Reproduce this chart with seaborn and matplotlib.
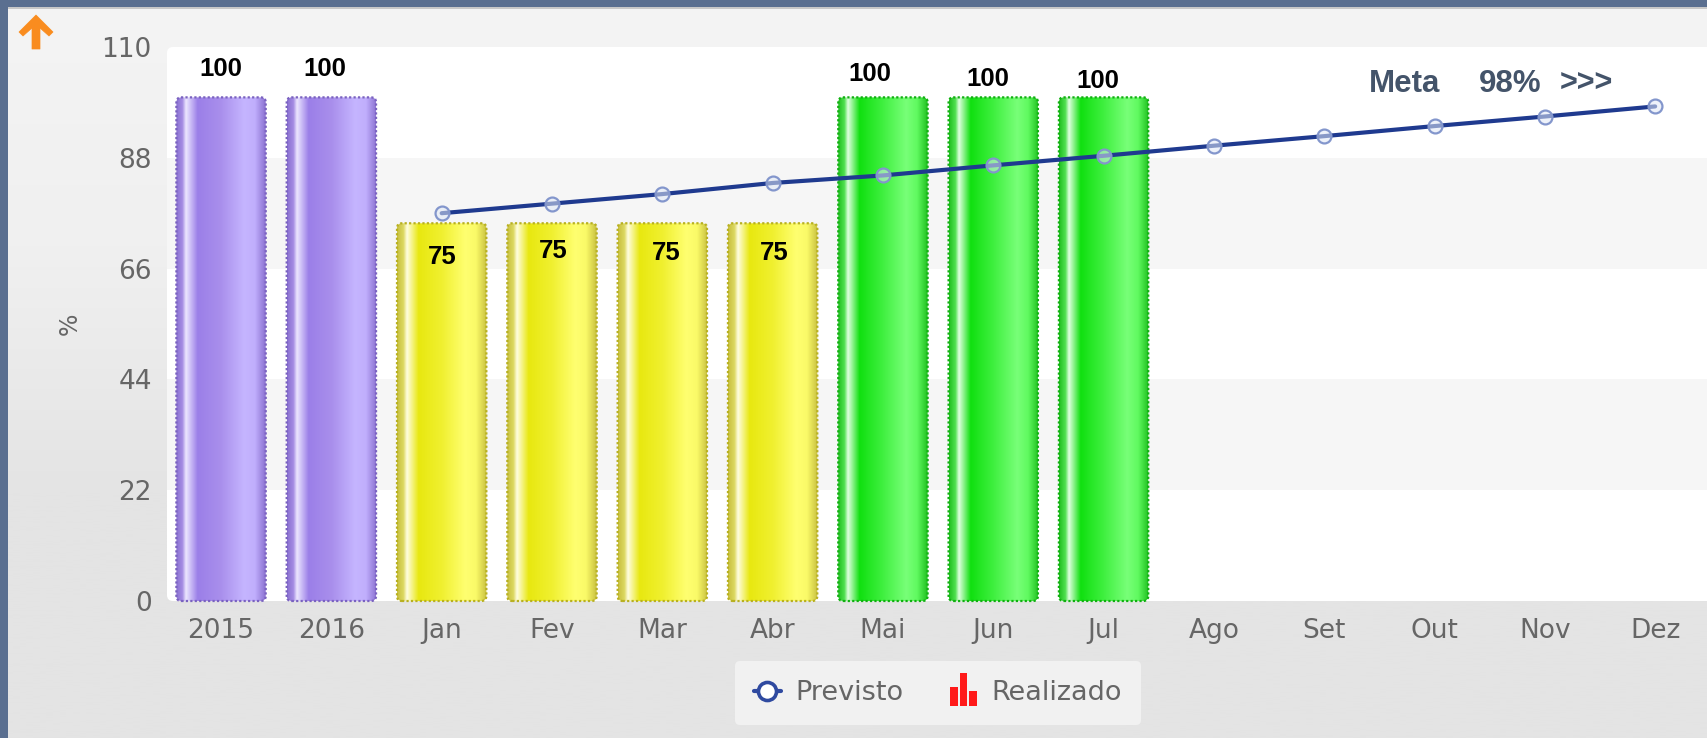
import numpy as np
import pandas as pd
import matplotlib
matplotlib.use("Agg")
import matplotlib.pyplot as plt
import seaborn as sns
from matplotlib.colors import LinearSegmentedColormap
from matplotlib.lines import Line2D
from matplotlib.patches import FancyBboxPatch, Rectangle, Polygon, Patch
from matplotlib.transforms import IdentityTransform
from matplotlib.legend_handler import HandlerBase

# ---- data ----
categories = ["2015", "2016", "Jan", "Fev", "Mar", "Abr", "Mai", "Jun", "Jul",
              "Ago", "Set", "Out", "Nov", "Dez"]
realizado = [100, 100, 75, 75, 75, 75, 100, 100, 100,
             np.nan, np.nan, np.nan, np.nan, np.nan]
faixa = ["ano", "ano", "medio", "medio", "medio", "medio", "alto", "alto", "alto",
         "alto", "alto", "alto", "alto", "alto"]
previsto_meses = ["Jan", "Fev", "Mar", "Abr", "Mai", "Jun", "Jul", "Ago", "Set", "Out", "Nov", "Dez"]
previsto = [77, 78.9, 80.8, 83, 84.5, 86.5, 88.4, 90.4, 92.3, 94.3, 96.2, 98.2]
y_ticks = [0, 22, 44, 66, 88, 110]

# ---- styles ----
W, H = 1707, 738
FRAME = "#5a6f90"
TICK = "#666666"
gradients = {
    "ano":   ["#8a70d0", "#a48ce4", "#ece6ff", "#9b7fe8", "#a98fec", "#c5b5ff", "#c0aefc", "#8a70d0"],
    "medio": ["#c8c040", "#dcd860", "#fffde0", "#e8e810", "#f0f030", "#ffff70", "#fafa68", "#c8c040"],
    "alto":  ["#20c020", "#50e050", "#e0ffe0", "#10e010", "#40f040", "#78ff78", "#60fa60", "#20c020"],
}
edges = {"ano": "#7a62c0", "medio": "#b8b020", "alto": "#10b010"}
stops = [0, 0.07, 0.11, 0.24, 0.5, 0.76, 0.88, 1]
label_pos = [("100", 221, 69), ("100", 325, 69), ("75", 442, 257), ("75", 553, 251),
             ("75", 666, 253), ("75", 774, 253), ("100", 870, 74), ("100", 988, 79),
             ("100", 1098, 81)]
meta_pos = [("Meta", 1405, 22.5), ("98%", 1510, 22.5), (">>>", 1586, 22)]

def px_x(x):
    return x / W

def px_y(y):
    return 1 - y / H

sns.set_theme(style="white")
plt.rcParams["font.family"] = ["DejaVu Sans"]

fig = plt.figure(figsize=(W / 100, H / 100), dpi=100)

# page background
bg = fig.add_axes([0, 0, 1, 1], zorder=0)
bg.axis("off")
bg.imshow(np.linspace(0, 1, 256).reshape(-1, 1), aspect="auto", extent=[0, W, H, 0],
          cmap=LinearSegmentedColormap.from_list("page", ["#f4f4f4", "#f0f0f0", "#e4e4e4", "#e4e4e4"]))
bg.add_patch(Rectangle((0, 0), W, 7, color=FRAME, lw=0))
bg.add_patch(Rectangle((0, 0), 8, H, color=FRAME, lw=0))
bg.add_patch(Rectangle((8, 7), W, 1.5, color="#c8c8c8", lw=0))
bg.add_patch(FancyBboxPatch((172, 52), W, 544, boxstyle="round,pad=5,rounding_size=6",
                            fc="white", ec="none"))
bg.add_patch(Polygon([(36, 15), (53, 32), (49, 36), (40, 28), (40, 49), (32, 49), (32, 28), (23, 36), (19, 32)],
                     closed=True, fc="#f98c1f", ec="#f98c1f", lw=0.5, joinstyle="round"))
bg.set_xlim(0, W)
bg.set_ylim(H, 0)

# plot
ax = fig.add_axes([167 / W, 1 - 601 / H, (W - 167) / W, 554 / H], zorder=2)
ax.patch.set_alpha(0)
df = pd.DataFrame({"categoria": categories, "realizado": realizado, "faixa": faixa})
sns.barplot(data=df, x="categoria", y="realizado", hue="faixa", dodge=False, order=categories,
            hue_order=["ano", "medio", "alto"], palette={k: v[3] for k, v in gradients.items()},
            width=0.81, legend=False, ax=ax, zorder=3)

ax.set_xlim(-0.49, 13.47)
ax.set_ylim(0, 110)

for low, high in zip(y_ticks[1::2], y_ticks[2::2]):
    ax.axhspan(low, high, xmin=0, xmax=1, facecolor="#f6f6f6", edgecolor="none", zorder=0.5)

bar_specs = []
for key, container in zip(["ano", "medio", "alto"], ax.containers):
    for bar in container:
        if np.isfinite(bar.get_height()) and bar.get_height() != 0:
            bar.set_visible(False)
            bar_specs.append((key, bar.get_x(), bar.get_width(), bar.get_height()))

for key, x0, w, h in bar_specs:
    cmap = LinearSegmentedColormap.from_list(key, list(zip(stops, gradients[key])))
    img = ax.imshow(np.linspace(0, 1, 256).reshape(1, -1), aspect="auto", cmap=cmap,
                    extent=[x0, x0 + w, 0, h], zorder=3)
    ax.set_xlim(-0.49, 13.47)
    ax.set_ylim(0, 110)
    (dx0, dy0), (dx1, dy1) = ax.transData.transform([(x0, 0), (x0 + w, h)])
    frame = FancyBboxPatch((dx0, dy0), dx1 - dx0, dy1 - dy0, boxstyle="round,pad=0,rounding_size=5",
                           fc="none", ec=edges[key], lw=1.6, linestyle=(0, (1, 1)),
                           transform=IdentityTransform(), zorder=4, clip_on=False)
    ax.add_artist(frame)
    img.set_clip_path(frame.get_path(), IdentityTransform())
ax.set_xlim(-0.49, 13.47)
ax.set_ylim(0, 110)

line_x = [categories.index(m) for m in previsto_meses]
sns.lineplot(x=line_x, y=previsto, color="#1f3a8f", lw=3, ax=ax, zorder=5,
             marker="o", markersize=10, markerfacecolor=(0.88, 0.91, 0.97, 0.55),
             markeredgecolor="#8396cc", markeredgewidth=1.6)

for s in ax.spines.values():
    s.set_visible(False)
ax.set_xlabel("")
ax.set_ylabel("")
ax.set_xticks(range(len(categories)), categories)
ax.set_yticks(y_ticks)
ax.tick_params(axis="both", length=0, labelsize=19, labelcolor=TICK)
ax.tick_params(axis="x", pad=12)
ax.tick_params(axis="y", pad=11)

fig.text(px_x(70), px_y(324), "%", rotation=90, fontsize=17, color=TICK, ha="center", va="center", zorder=6)

bold = dict(family="Liberation Sans", fontweight="bold", va="center", zorder=6)
for text, x, y in label_pos:
    fig.text(px_x(x), px_y(y), text, fontsize=18.5, color="black", ha="center", **bold)
for text, x, size in meta_pos:
    fig.text(px_x(x), px_y(84), text, fontsize=size, color="#44546a", ha="center", **bold)

# legend
class BarsIcon(HandlerBase):
    def create_artists(self, legend, orig, xd, yd, width, height, fontsize, trans):
        heights = [1.0, 1.7, 0.75]
        out = []
        for i, k in enumerate(heights):
            out.append(Rectangle((-xd + width * (0.02 + 0.34 * i), -yd - 4), width * 0.29, height * k,
                                 fc="#ff1a1a", ec="none", transform=trans))
        return out

handles = [Line2D([], [], color="#2f4aa0", lw=3, marker="o", markersize=13,
                  markerfacecolor="white", markeredgecolor="#2f4aa0", markeredgewidth=2.6),
           Patch(color="#ff1a1a")]
leg = fig.legend(handles, ["Previsto", "Realizado"], loc="center", bbox_to_anchor=(938 / W, 1 - 693 / H),
                 ncol=2, frameon=True, fontsize=19.5, labelcolor=TICK, facecolor="#f1f1f1", edgecolor="none",
                 framealpha=1, fancybox=True, handlelength=1.0, handletextpad=0.55, columnspacing=1.7,
                 borderpad=0.7, handler_map={Patch: BarsIcon()})
leg.set_zorder(6)

fig.savefig("out.png", dpi=100)
